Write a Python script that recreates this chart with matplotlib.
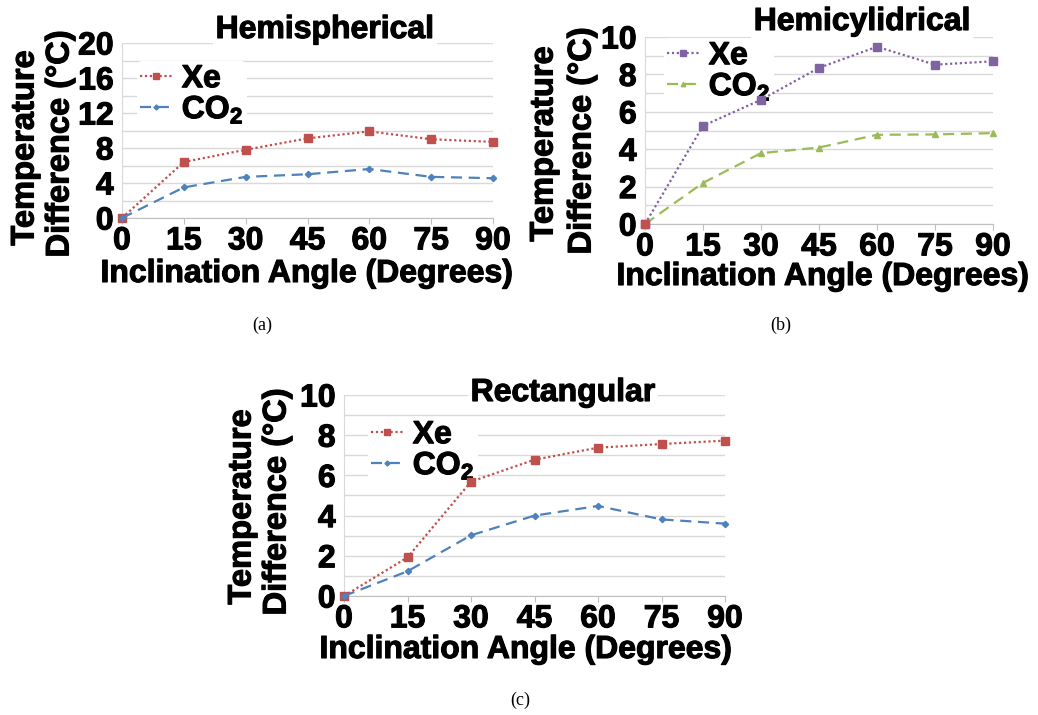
import matplotlib
matplotlib.use("Agg")
import matplotlib.pyplot as plt
import matplotlib.patheffects as pe
from matplotlib.ticker import MultipleLocator

# ---- data ----
angles = [0, 15, 30, 45, 60, 75, 90]

hemi_xe = [0, 6.4, 7.8, 9.1, 9.9, 9.0, 8.7]
hemi_co2 = [0, 3.5, 4.7, 5.0, 5.6, 4.7, 4.55]

cyl_xe = [0, 5.25, 6.64, 8.35, 9.48, 8.52, 8.7]
cyl_co2 = [0, 2.2, 3.79, 4.09, 4.77, 4.79, 4.86]

rect_xe = [0, 1.92, 5.69, 6.78, 7.38, 7.56, 7.73]
rect_co2 = [0, 1.23, 3.02, 4.0, 4.48, 3.81, 3.6]

titles = ["Hemispherical", "Hemicylidrical", "Rectangular"]
captions = ["(a)", "(b)", "(c)"]
x_ticks = angles
x_label = "Inclination Angle (Degrees)"
legend_labels = ["Xe", "CO$_\\mathregular{2}$"]

W, H = 1038, 715
fig = plt.figure(figsize=(W / 100, H / 100), dpi=100)
plt.rcParams["font.family"] = ["Liberation Sans", "DejaVu Sans"]
plt.rcParams["mathtext.fontset"] = "custom"
plt.rcParams["mathtext.rm"] = "Liberation Sans:bold"

HEAVY = [pe.withStroke(linewidth=0.8, foreground="black")]


def fx(px):
    return px / W


def fy(py):
    return 1 - py / H


def make_axes(left, right, top, bottom):
    return fig.add_axes([fx(left), fy(bottom), fx(right) - fx(left), fy(top) - fy(bottom)])


RED = "#C0504D"
BLUE = "#4F81BD"
PURPLE = "#8064A2"
GREEN = "#9BBB59"
GRID = "#D9D9D9"

panels = [
    dict(box=(122, 493, 43, 218), ymax=20, major=4, minor=2,
         s1=hemi_xe, s2=hemi_co2, c1=RED, c2=BLUE, m2="D", ms2=3.2,
         title_xy=(325, 30), leg_xy=(137, 61), spacing=0.0,
         ylab1=(25, 148), ylab2=(60, 144), xlab=(307, 274)),
    dict(box=(645, 993, 37, 224), ymax=10, major=2, minor=1,
         s1=cyl_xe, s2=cyl_co2, c1=PURPLE, c2=GREEN, m2="^", ms2=4,
         title_xy=(862, 22), leg_xy=(664, 38), spacing=0.0,
         ylab1=(544, 144), ylab2=(582, 141), xlab=(823, 277)),
    dict(box=(344, 725, 395, 596), ymax=10, major=2, minor=1,
         s1=rect_xe, s2=rect_co2, c1=RED, c2=BLUE, m2="D", ms2=3.2,
         title_xy=(563, 393), leg_xy=(368, 417), spacing=0.0,
         ylab1=(242, 507), ylab2=(277, 502), xlab=(526, 650)),
]

for i, p in enumerate(panels):
    ax = make_axes(*p["box"])
    ax.set_xlim(0, 90)
    ax.set_ylim(0, p["ymax"])
    ax.yaxis.set_major_locator(MultipleLocator(p["major"]))
    ax.yaxis.set_minor_locator(MultipleLocator(p["minor"]))
    ax.set_xticks(x_ticks)
    ax.grid(True, which="both", axis="y", color=GRID, lw=1.0)
    ax.set_axisbelow(True)
    for s in ["top", "right"]:
        ax.spines[s].set_visible(False)
    ax.spines["left"].set_color(GRID)
    ax.spines["bottom"].set_color("#BFBFBF")
    ax.tick_params(axis="y", which="both", length=0, pad=6, labelsize=23)
    ax.tick_params(axis="x", length=4, color="#BFBFBF", pad=2, labelsize=23)
    for lab in ax.get_xticklabels() + ax.get_yticklabels():
        lab.set_fontweight("bold")
        lab.set_path_effects(HEAVY)

    ax.plot(angles, p["s1"], ls=(0, (1, 1.2)), lw=1.6, color=p["c1"],
            marker="s", ms=6, label=legend_labels[0], clip_on=False, zorder=3)
    ax.plot(angles, p["s2"], ls=(0, (5, 3)), lw=1.6, color=p["c2"],
            marker=p["m2"], ms=p["ms2"], label=legend_labels[1], clip_on=False, zorder=3)
    if i == 1:
        ax.plot(angles[0], p["s1"][0], "s", color=RED, ms=6, clip_on=False, zorder=4)

    # title with white backing over the top gridline
    fig.text(fx(p["title_xy"][0]), fy(p["title_xy"][1]), titles[i],
             ha="center", va="center", fontsize=23, fontweight="bold",
             bbox=dict(facecolor="white", edgecolor="none", pad=2), zorder=5,
             path_effects=HEAVY)

    # legend sits above the gridlines but beneath the data lines
    leg = ax.legend(loc="upper left",
                    bbox_to_anchor=(fx(p["leg_xy"][0]), fy(p["leg_xy"][1])),
                    bbox_transform=fig.transFigure,
                    frameon=True, facecolor="white", edgecolor="none", framealpha=1,
                    handlelength=1.0, handletextpad=0.3, borderpad=0.1,
                    labelspacing=p["spacing"], borderaxespad=0,
                    prop=dict(size=23, weight="bold"), markerscale=0.8)
    leg.set_zorder(2.5)
    for t in leg.get_texts():
        t.set_path_effects(HEAVY)

    for key, txt in (("ylab1", "Temperature"), ("ylab2", "Difference (°C)")):
        fig.text(fx(p[key][0]), fy(p[key][1]), txt, rotation=90,
                 ha="center", va="center", fontsize=23.5, fontweight="bold",
                 path_effects=HEAVY)
    fig.text(fx(p["xlab"][0]), fy(p["xlab"][1]), x_label,
             ha="center", va="center", fontsize=23, fontweight="bold",
             path_effects=HEAVY)

cap_pos = [(262, 325), (781, 325), (520, 700)]
for c, (cx, cy) in zip(captions, cap_pos):
    fig.text(fx(cx), fy(cy), c, ha="center", va="center", fontsize=13,
             family=["Liberation Serif", "DejaVu Serif"])

fig.savefig("out.png", dpi=100, facecolor="white")
